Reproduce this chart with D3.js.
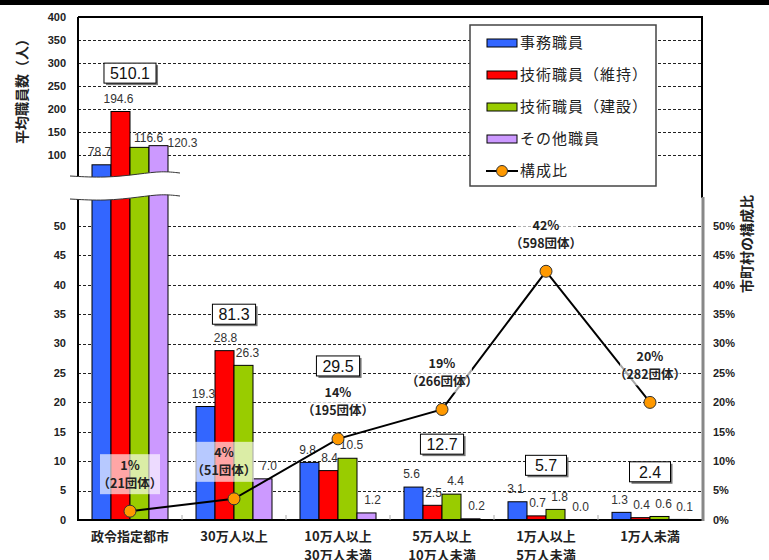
<!DOCTYPE html>
<html><head><meta charset="utf-8">
<script src="https://cdn.jsdelivr.net/npm/d3@7"></script>
<style>body{margin:0;background:#fff}svg{display:block}</style>
</head><body><svg id="c" width="769" height="560"></svg>
<script>
// ---- data ----
const categories = [["政令指定都市"],["30万人以上"],["10万人以上","30万人未満"],["5万人以上","10万人未満"],["1万人以上","5万人未満"],["1万人未満"]];
const seriesNames = ["事務職員","技術職員（維持）","技術職員（建設）","その他職員"];
const jimu     = [78.7, 19.3, 9.8, 5.6, 3.1, 1.3];
const iji      = [194.6, 28.8, 8.4, 2.5, 0.7, 0.4];
const kensetsu = [116.6, 26.3, 10.5, 4.4, 1.8, 0.6];
const sonota   = [120.3, 7.0, 1.2, 0.2, 0.0, 0.1];
const totals   = ["510.1","81.3","29.5","12.7","5.7","2.4"];
const ratio    = [0.015, 0.036, 0.138, 0.188, 0.423, 0.200];
const ratioLabels = ["1%","4%","14%","19%","42%","20%"];
const dantai   = ["（21団体）","（51団体）","（195団体）","（266団体）","（598団体）","（282団体）"];
const lineName = "構成比";
const upperTicks = [100,150,200,250,300,350,400];
const lowerTicks = [0,5,10,15,20,25,30,35,40,45,50];
const rightTicks = [0,0.05,0.1,0.15,0.2,0.25,0.3,0.35,0.4,0.45,0.5];
const yTitle = "平均職員数（人）";
const y2Title = "市町村の構成比";

// ---- layout / style ----
const colors = ["#3366ff","#ff0000","#99cc00","#cc99ff"];
const series = [jimu, iji, kensetsu, sonota];
const L = 78, R = 702, T = 17, B = 520;
const totalBoxAt = [[0,278],[1,35],[1,26.2],[1,12.9],[1,9.3],[1,8.2]]; // [panel, value]
const seriesLabelDx = [-2, 1, 4, 6];
const firstGroupNudge = [[-2,0],[-2,0],[9,3],[24,10]];
const ratioLabelDx = [0, -10, 0, 0, 0, 0];

const svg = d3.select("#c");
const FONT = "'Liberation Sans','Noto Sans CJK JP',sans-serif";
const JFONT = "'Noto Sans CJK JP','Liberation Sans',sans-serif";

const x0 = d3.scaleBand().domain(d3.range(categories.length)).range([L, R]);
const x1 = d3.scaleBand().domain(d3.range(4)).range([14, 90]);
const yT = d3.scaleLinear().domain([100, 400]).range([155, T]);
const yB = d3.scaleLinear().domain([0, 50]).range([B, 226]);
const yR = d3.scaleLinear().domain([0, 0.5]).range([B, 226]);

svg.append("rect").attr("x",0).attr("y",0).attr("width",769).attr("height",5).attr("fill","#000");

// gridlines
const grid = svg.append("g").attr("stroke","#222").attr("stroke-width",1).attr("stroke-dasharray","3,2");
upperTicks.filter(t => t < 400).forEach(t => grid.append("line").attr("x1",L).attr("x2",R).attr("y1",Math.round(yT(t))+0.5).attr("y2",Math.round(yT(t))+0.5));
lowerTicks.filter(t => t > 0).forEach(t => grid.append("line").attr("x1",L).attr("x2",R).attr("y1",Math.round(yB(t))+0.5).attr("y2",Math.round(yB(t))+0.5));

// bars
const gb = svg.append("g");
function bar(x, y, w, h, c) {
  gb.append("rect").attr("x",x).attr("y",y).attr("width",w).attr("height",Math.max(0,h))
    .attr("fill",c).attr("stroke","#000").attr("stroke-width",1);
}
categories.forEach((c, i) => {
  series.forEach((s, j) => {
    const v = s[i];
    const bx = x0(i) + x1(j), bw = x1.bandwidth();
    if (i === 0 || v > 55) {
      const top = yT(v);
      bar(bx, top, bw, 186 - top, colors[j]);           // upper panel
      bar(bx, yB(57), bw, B - yB(57), colors[j]);       // lower panel (runs off the top)
    } else {
      bar(bx, yB(v), bw, B - yB(v), colors[j]);
    }
  });
});

// axes frame
const ax = svg.append("g").attr("stroke","#000").attr("stroke-width",2);
ax.append("line").attr("x1",L).attr("x2",R+1).attr("y1",T).attr("y2",T);
ax.append("line").attr("x1",R).attr("x2",R).attr("y1",T).attr("y2",198);
ax.append("line").attr("x1",L).attr("x2",L).attr("y1",T).attr("y2",B);
svg.append("line").attr("x1",R+1).attr("x2",R+1).attr("y1",197).attr("y2",B+1).attr("stroke","#888").attr("stroke-width",3);
ax.append("line").attr("x1",L-1).attr("x2",R+2).attr("y1",B).attr("y2",B);
d3.range(1, categories.length).forEach(i => {
  svg.append("line").attr("x1",x0(i)).attr("x2",x0(i)).attr("y1",B-5).attr("y2",B).attr("stroke","#aaa").attr("stroke-width",1);
});

// axis break
const upperPts = [[70,176],[105,178],[140,174],[162,171],[180,173]];
const lowerPts = upperPts.map(p => [p[0], p[1] + 23]);
const curve = d3.line().curve(d3.curveBasis);
svg.append("path").attr("d", curve(upperPts.concat([[180,184],[180,190]]).concat(lowerPts.slice().reverse())) + "Z")
  .attr("fill","#fff").attr("stroke","none");
svg.append("rect").attr("x",70).attr("y",178).attr("width",110).attr("height",16).attr("fill","#fff");
svg.append("path").attr("d",curve(upperPts)).attr("fill","none").attr("stroke","#333").attr("stroke-width",1);
svg.append("path").attr("d",curve(lowerPts)).attr("fill","none").attr("stroke","#333").attr("stroke-width",1);

// left tick labels
const tl = svg.append("g").attr("font-family",FONT).attr("font-size",11).attr("font-weight","bold").attr("fill","#222").attr("text-anchor","end");
upperTicks.forEach(t => tl.append("text").attr("x",66).attr("y",yT(t)).attr("dy","0.35em").text(t));
lowerTicks.forEach(t => tl.append("text").attr("x",66).attr("y",yB(t)).attr("dy","0.35em").text(t));
// right tick labels
const tr = svg.append("g").attr("font-family",FONT).attr("font-size",11).attr("font-weight","bold").attr("fill","#222").attr("text-anchor","start");
rightTicks.forEach(t => tr.append("text").attr("x",713).attr("y",yR(t)).attr("dy","0.35em").text(d3.format(".0%")(t)));

// axis titles
svg.append("text").attr("transform","translate(22,88) rotate(-90)").attr("text-anchor","middle")
  .attr("font-family",JFONT).attr("font-size",14).attr("font-weight","bold").attr("fill","#222").attr("dy","0.35em").text(yTitle);
svg.append("text").attr("transform","translate(747,244) rotate(-90)").attr("text-anchor","middle")
  .attr("font-family",JFONT).attr("font-size",14).attr("font-weight","bold").attr("fill","#222").attr("dy","0.35em").text(y2Title);

// x labels
const xl = svg.append("g").attr("font-family",JFONT).attr("font-size",13).attr("font-weight","bold").attr("fill","#222").attr("text-anchor","middle");
categories.forEach((c, i) => {
  c.forEach((line, k) => xl.append("text").attr("x",x0(i)+x0.bandwidth()/2).attr("y",536 + k*19).attr("dy","0.35em").text(line));
});

// value labels
const vl = svg.append("g").attr("font-family",FONT).attr("font-size",12).attr("fill","#333").attr("text-anchor","middle");
categories.forEach((c, i) => {
  series.forEach((s, j) => {
    const v = s[i];
    const cx = x0(i) + x1(j) + x1.bandwidth()/2;
    const top = i === 0 ? yT(v) : yB(v);
    let dx = seriesLabelDx[j], dy = 0;
    if (i === 0) { dx = firstGroupNudge[j][0]; dy = firstGroupNudge[j][1]; }
    vl.append("text").attr("x",cx+dx).attr("y",top - 13 + dy).attr("dy","0.35em").text(v.toFixed(1));
  });
});

// total boxes
totals.forEach((t, i) => {
  const cx = x0(i) + x0.bandwidth()/2;
  const cy = totalBoxAt[i][0] === 0 ? yT(totalBoxAt[i][1]) : yB(totalBoxAt[i][1]);
  const g = svg.append("g");
  const txt = g.append("text").attr("x",cx).attr("y",cy).attr("dy","0.36em").attr("text-anchor","middle")
    .attr("font-family",FONT).attr("font-size",16).attr("fill","#111").text(t);
  const w = Math.max(41, txt.node().getComputedTextLength() + 12);
  g.insert("rect","text").attr("x",cx - w/2 + 2).attr("y",cy - 10 + 2).attr("width",w).attr("height",20).attr("fill","#777");
  g.insert("rect","text").attr("x",cx - w/2).attr("y",cy - 10).attr("width",w).attr("height",20).attr("fill","#fff").attr("stroke","#000").attr("stroke-width",1);
});

// ratio line
const pts = ratio.map((r, i) => [x0(i) + x0.bandwidth()/2, yR(r)]);
svg.append("path").attr("d", d3.line()(pts)).attr("fill","none").attr("stroke","#000").attr("stroke-width",2);

// ratio labels
const rl = svg.append("g");
pts.forEach((p, i) => {
  rl.append("rect").attr("x",p[0]+ratioLabelDx[i]-30).attr("y",p[1]-57).attr("width",60).attr("height",40).attr("fill","#fff").attr("opacity",0.65);
});
pts.forEach((p, i) => {
  const g = rl.append("g").attr("font-family",JFONT).attr("font-size",12.5).attr("font-weight","bold").attr("fill","#222").attr("text-anchor","middle");
  g.append("text").attr("x",p[0]+ratioLabelDx[i]).attr("y",p[1]-46).attr("dy","0.35em").text(ratioLabels[i]);
  g.append("text").attr("x",p[0]+ratioLabelDx[i]).attr("y",p[1]-28).attr("dy","0.35em").text(dantai[i]);
});
svg.append("g").selectAll("circle").data(pts).join("circle").attr("cx",d=>d[0]).attr("cy",d=>d[1]).attr("r",6)
  .attr("fill","#ff9900").attr("stroke","#333").attr("stroke-width",1);

// legend
const lg = svg.append("g");
lg.append("rect").attr("x",470).attr("y",25).attr("width",186).attr("height",161).attr("fill","#fff").attr("stroke","#444").attr("stroke-width",1.5);
const legendRows = seriesNames.concat([lineName]);
legendRows.forEach((n, i) => {
  const y = 43 + i*32;
  if (i < 4) {
    lg.append("rect").attr("x",487).attr("y",y-4).attr("width",30).attr("height",8).attr("fill",colors[i]).attr("stroke","#000").attr("stroke-width",1);
  } else {
    lg.append("line").attr("x1",486).attr("x2",518).attr("y1",y).attr("y2",y).attr("stroke","#000").attr("stroke-width",2);
    lg.append("circle").attr("cx",502).attr("cy",y).attr("r",5.5).attr("fill","#ff9900").attr("stroke","#333").attr("stroke-width",1);
  }
  lg.append("text").attr("x",520).attr("y",y).attr("dy","0.36em").attr("font-family",JFONT).attr("font-size",15)
    .attr("letter-spacing","1px").attr("fill","#222").text(n);
});
</script></body></html>
